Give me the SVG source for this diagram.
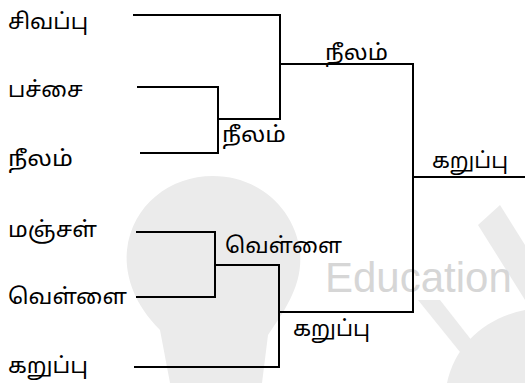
<svg xmlns="http://www.w3.org/2000/svg" width="525" height="383" viewBox="0 0 525 383">
<style>
.t{font-family:"Noto Sans Tamil","Lohit Tamil","Latha","Noto Sans",sans-serif;font-size:22px;fill:#000}
.c{fill:none;stroke:#000;stroke-width:2;stroke-linecap:square}
.wm{fill:#ebebeb}
</style>
<rect width="525" height="383" fill="#fff"/>
<g id="watermark">
<path class="wm" d="M160 330 C130 300 125 270 127 250 C132 205 170 176 213 176 C258 176 295 208 300 252 C303 285 285 310 268 335 L262 383 L170 383 Z"/>
<path class="wm" d="M447 383 C455 345 485 318 525 310 L525 383 Z"/>
<polygon class="wm" points="478,225 500,205 525,245 525,300"/>
<polygon class="wm" points="418,300 440,300 505,383 485,383"/>
<text x="325" y="292" font-family="Liberation Sans,Arial,sans-serif" font-size="42" fill="#d6d6d6">Education</text>
</g>
<g id="connectors">
<polyline class="c" points="134,15 280,15 280,119 219,119"/>
<polyline class="c" points="138,87 218,87 218,153 141,153"/>
<polyline class="c" points="280,64 413,64 413,312 280,312"/>
<line class="c" x1="413" y1="177" x2="525" y2="177"/>
<polyline class="c" points="137,232 215,232 215,297 137,297"/>
<polyline class="c" points="215,265 279,265 279,367 135,367"/>
</g>
<g id="n-sivappu"><text class="t" x="8" y="29" textLength="80" lengthAdjust="spacingAndGlyphs">சிவப்பு</text></g>
<g id="n-pachai"><text class="t" x="8" y="97" textLength="75" lengthAdjust="spacingAndGlyphs">பச்சை</text></g>
<g id="n-neelam"><text class="t" x="8" y="166" textLength="65" lengthAdjust="spacingAndGlyphs">நீலம்</text></g>
<g id="n-manjal"><text class="t" x="8" y="237" textLength="89" lengthAdjust="spacingAndGlyphs">மஞ்சள்</text></g>
<g id="n-vellai"><text class="t" x="8" y="304" textLength="119" lengthAdjust="spacingAndGlyphs">வெள்ளை</text></g>
<g id="n-karuppu"><text class="t" x="8" y="373" textLength="80" lengthAdjust="spacingAndGlyphs">கறுப்பு</text></g>
<g id="w-neelam1"><text class="t" x="222" y="142" textLength="64" lengthAdjust="spacingAndGlyphs">நீலம்</text></g>
<g id="w-vellai1"><text class="t" x="225" y="253" textLength="117" lengthAdjust="spacingAndGlyphs">வெள்ளை</text></g>
<g id="w-neelam2"><text class="t" x="325" y="60" textLength="63" lengthAdjust="spacingAndGlyphs">நீலம்</text></g>
<g id="w-karuppu1"><text class="t" x="293" y="336" textLength="77" lengthAdjust="spacingAndGlyphs">கறுப்பு</text></g>
<g id="w-karuppu2"><text class="t" x="432" y="168" textLength="76" lengthAdjust="spacingAndGlyphs">கறுப்பு</text></g>
</svg>
